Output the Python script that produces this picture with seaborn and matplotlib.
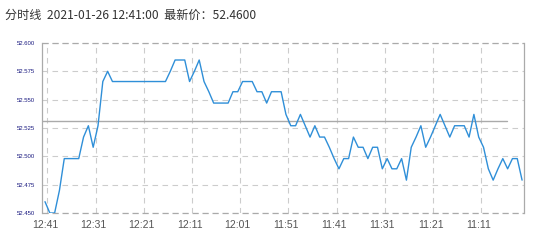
import matplotlib
matplotlib.use("Agg")
import matplotlib.pyplot as plt
import matplotlib.ticker as mticker
import numpy as np
import pandas as pd
import seaborn as sns

# ---- data ----
# minute index 0 = 12:41 (latest), going back in time to the right
prices = [
    52.460, 52.450, 52.450, 52.470, 52.498, 52.498, 52.498, 52.498, 52.517, 52.527,
    52.508, 52.527, 52.566, 52.575, 52.566, 52.566, 52.566, 52.566, 52.566, 52.566,
    52.566, 52.566, 52.566, 52.566, 52.566, 52.566, 52.575, 52.585, 52.585, 52.585,
    52.566, 52.575, 52.585, 52.566, 52.557, 52.547, 52.547, 52.547, 52.547, 52.557,
    52.557, 52.566, 52.566, 52.566, 52.557, 52.557, 52.547, 52.557, 52.557, 52.557,
    52.537, 52.527, 52.527, 52.537, 52.527, 52.517, 52.527, 52.517, 52.517, 52.508,
    52.498, 52.489, 52.498, 52.498, 52.517, 52.508, 52.508, 52.498, 52.508, 52.508,
    52.489, 52.498, 52.489, 52.489, 52.498, 52.479, 52.508, 52.517, 52.527, 52.508,
    52.517, 52.527, 52.537, 52.527, 52.517, 52.527, 52.527, 52.527, 52.517, 52.537,
    52.517, 52.508, 52.489, 52.479, 52.489, 52.498, 52.489, 52.498, 52.498, 52.479,
]
ref_price = 52.531
tick_labels = ["12:41", "12:31", "12:21", "12:11", "12:01",
               "11:51", "11:41", "11:31", "11:21", "11:11"]
y_ticks = [52.450, 52.475, 52.500, 52.525, 52.550, 52.575, 52.600]
title = "分时线  2021-01-26 12:41:00  最新价：52.4600"

df = pd.DataFrame({"idx": np.arange(len(prices)), "price": prices})

sns.set_style("white")
plt.rcParams["font.family"] = ["Liberation Sans", "Noto Sans CJK SC", "DejaVu Sans"]

fig = plt.figure(figsize=(5.42, 2.45), dpi=100)
ax = fig.add_axes([0.0775, 0.1306, 0.9668 - 0.0775, 0.8245 - 0.1306])

sns.lineplot(data=df, x="idx", y="price", ax=ax, color="#2f8fd8",
             linewidth=1.0, zorder=3)

xl = (-0.62, 99.4)
ax.set_xlim(*xl)
ax.set_ylim(y_ticks[0], y_ticks[-1])

# reference (previous close) line
ax.plot([xl[0], 95.85], [ref_price, ref_price], color="#aaaaaa",
        linewidth=1.0, zorder=2)

# ticks
major_x = np.arange(0, len(tick_labels) * 10, 10)
ax.set_xticks(major_x)
ax.set_xticklabels(tick_labels)
ax.set_xticks(major_x + 0.5, minor=True)
ax.set_yticks(y_ticks)
ax.yaxis.set_major_formatter(mticker.FormatStrFormatter("%.3f"))

ax.tick_params(axis="x", which="both", length=0, labelsize=7.5,
               labelcolor="#555555", pad=5)
ax.tick_params(axis="y", length=0, labelsize=4.3, labelcolor="#1a1a80", pad=5)

# grid: dashed vertical at minor positions, dashed horizontal at y ticks
ax.grid(False)
ax.xaxis.grid(True, which="minor", color="#cccccc", linestyle=(0, (5, 4)),
              linewidth=0.8)
ax.yaxis.grid(True, which="major", color="#cccccc", linestyle=(0, (5, 4)),
              linewidth=0.8)
for yv in (y_ticks[0], y_ticks[-1]):
    ax.axhline(yv, color="#aaaaaa", linestyle=(0, (5, 3)), linewidth=0.9,
               zorder=1, clip_on=False)

for s in ("top", "bottom"):
    ax.spines[s].set_visible(False)
for s in ("left", "right"):
    ax.spines[s].set_color("#aaaaaa")
    ax.spines[s].set_linewidth(0.9)

ax.set_xlabel("")
ax.set_ylabel("")

fig.text(5 / 542, 1 - 15 / 245, title, fontsize=8.7, color="#333333",
         va="center", ha="left",
         family=["Noto Sans CJK SC", "DejaVu Sans"])

fig.savefig("out.png", dpi=100)
